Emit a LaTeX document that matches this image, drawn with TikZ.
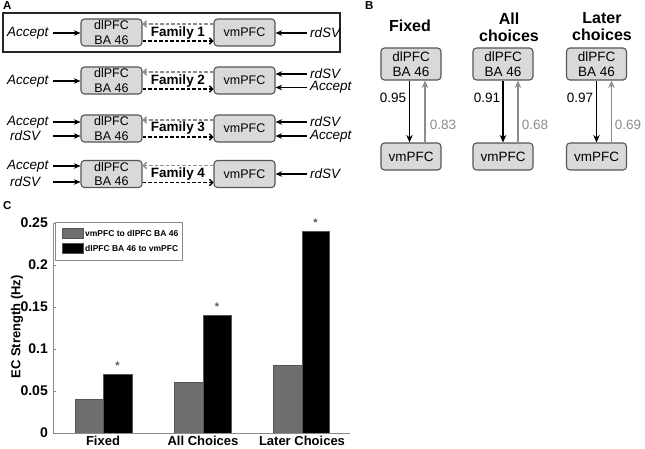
\documentclass[tikz,border=0pt]{standalone}
\usepackage{fontspec}
\setmainfont{Liberation Sans}
\usetikzlibrary{arrows.meta}
\definecolor{boxfill}{HTML}{D9D9D9}
\definecolor{boxline}{HTML}{555555}
\definecolor{garrow}{HTML}{8C8C8C}
\definecolor{gbar}{HTML}{6E6E6E}
\definecolor{axisc}{HTML}{8A8A8A}
\begin{document}
\begin{tikzpicture}[x=1pt,y=-1pt,
  boxA/.style={draw=boxline, fill=boxfill, rounded corners=3.5pt, line width=1.1pt, align=center, inner sep=0pt,
    minimum width=61pt, minimum height=27pt, font=\fontsize{12.5}{14.5}\selectfont},
  boxB/.style={draw=boxline, fill=boxfill, rounded corners=3.5pt, line width=1.1pt, align=center, inner sep=0pt,
    minimum width=60pt, font=\fontsize{13.5}{15}\selectfont},
  inarr/.style={-{Stealth[length=6.5pt,width=5.5pt]}, line width=1.6pt},
  gdash/.style={draw=garrow, line width=1.4pt, dash pattern=on 3.5pt off 2pt, -{Straight Barb[length=3pt,width=6.5pt]}},
  bdash/.style={draw=black, line width=1.4pt, dash pattern=on 3.5pt off 2pt, -{Straight Barb[length=3pt,width=6.5pt]}},
  lab/.style={font=\itshape\fontsize{13.5}{14}\selectfont, inner sep=0pt},
  fam/.style={font=\bfseries\fontsize{13.5}{14}\selectfont, inner sep=0pt},
  plab/.style={font=\bfseries\fontsize{11.5}{12}\selectfont, inner sep=0pt, anchor=north west},
  ttl/.style={font=\bfseries\fontsize{16}{17}\selectfont, align=center, inner sep=0pt},
  num/.style={font=\fontsize{13.5}{14}\selectfont, inner sep=0pt},
  barr/.style={-{Stealth[length=7.5pt,width=6.5pt]}, line width=1.6pt},
  garr/.style={draw=garrow, -{Stealth[length=7.5pt,width=6.5pt]}, line width=1.6pt},
  tick/.style={font=\bfseries\fontsize{14}{15}\selectfont, inner sep=0pt, anchor=east},
  xlab/.style={font=\bfseries\fontsize{13}{14}\selectfont, inner sep=0pt},
  leg/.style={font=\bfseries\fontsize{8.5}{9}\selectfont, inner sep=0pt, anchor=west},
  star/.style={font=\bfseries\fontsize{11}{12}\selectfont, text=boxline, inner sep=0pt, anchor=north}
]
\useasboundingbox (0,0) rectangle (645,448);

%% ---------------- Panel A ----------------
\node[plab] (labA) at (3,1) {A};
\draw[line width=1.5pt, draw=black!85] (3,13) rectangle (340,52);

% Row 1
\node[boxA] (d1) at (111.5,32.5) {dlPFC\\BA 46};
\node[boxA] (v1) at (244.5,32.5) {vmPFC};
\node[fam] (f1) at (178,33) {Family 1};
\draw[gdash] ([yshift=8.5pt]v1.west) -- ([yshift=8.5pt]d1.east);
\draw[bdash] ([yshift=-8.5pt]d1.east) -- ([yshift=-8.5pt]v1.west);
\node[lab, anchor=west] (l1a) at (7,33) {Accept};
\coordinate (s1a) at (53,33);
\draw[inarr] (s1a) -- (d1.west |- s1a);
\node[lab, anchor=west] (r1a) at (310,33) {rdSV};
\coordinate (t1a) at (307,33);
\draw[inarr] (t1a) -- (v1.east |- t1a);

% Row 2
\node[boxA] (d2) at (111.5,80.5) {dlPFC\\BA 46};
\node[boxA] (v2) at (244.5,80.5) {vmPFC};
\node[fam] (f2) at (178,81) {Family 2};
\draw[gdash] ([yshift=8.5pt]v2.west) -- ([yshift=8.5pt]d2.east);
\draw[bdash] ([yshift=-8.5pt]d2.east) -- ([yshift=-8.5pt]v2.west);
\node[lab, anchor=west] (l2a) at (7,81) {Accept};
\coordinate (s2a) at (53,81);
\draw[inarr] (s2a) -- (d2.west |- s2a);
\node[lab, anchor=west] (r2a) at (310,74) {rdSV};
\node[lab, anchor=west] (r2b) at (310,87.5) {Accept};
\coordinate (t2a) at (307,74);
\coordinate (t2b) at (307,87.5);
\draw[inarr] (t2a) -- (v2.east |- t2a);
\draw[inarr] (t2b) -- (v2.east |- t2b);

% Row 3
\node[boxA] (d3) at (111.5,128.5) {dlPFC\\BA 46};
\node[boxA] (v3) at (244.5,128.5) {vmPFC};
\node[fam] (f3) at (178,128.5) {Family 3};
\draw[gdash] ([yshift=8.5pt]v3.west) -- ([yshift=8.5pt]d3.east);
\draw[bdash] ([yshift=-8.5pt]d3.east) -- ([yshift=-8.5pt]v3.west);
\node[lab, anchor=west] (l3a) at (7,122) {Accept};
\node[lab, anchor=west] (l3b) at (10,136) {rdSV};
\coordinate (s3a) at (53,122);
\coordinate (s3b) at (53,136);
\draw[inarr] (s3a) -- (d3.west |- s3a);
\draw[inarr] (s3b) -- (d3.west |- s3b);
\node[lab, anchor=west] (r3a) at (310,122) {rdSV};
\node[lab, anchor=west] (r3b) at (310,136) {Accept};
\coordinate (t3a) at (307,122);
\coordinate (t3b) at (307,136);
\draw[inarr] (t3a) -- (v3.east |- t3a);
\draw[inarr] (t3b) -- (v3.east |- t3b);

% Row 4
\node[boxA] (d4) at (111.5,174) {dlPFC\\BA 46};
\node[boxA] (v4) at (244.5,174) {vmPFC};
\node[fam] (f4) at (178,174.5) {Family 4};
\draw[gdash] ([yshift=8.5pt]v4.west) -- ([yshift=8.5pt]d4.east);
\draw[bdash] ([yshift=-8.5pt]d4.east) -- ([yshift=-8.5pt]v4.west);
\node[lab, anchor=west] (l4a) at (7,166) {Accept};
\node[lab, anchor=west] (l4b) at (10,182) {rdSV};
\coordinate (s4a) at (53,166);
\coordinate (s4b) at (53,182);
\draw[inarr] (s4a) -- (d4.west |- s4a);
\draw[inarr] (s4b) -- (d4.west |- s4b);
\node[lab, anchor=west] (r4a) at (310,174) {rdSV};
\coordinate (t4a) at (307,174);
\draw[inarr] (t4a) -- (v4.east |- t4a);

%% ---------------- Panel B ----------------
\node[plab] (labB) at (365,1) {B};
\node[ttl] (tt1) at (410,26) {Fixed};
\node[ttl] (tt2) at (509,27) {All\\choices};
\node[ttl] (tt3) at (602,27) {Later\\choices};

\node[boxB, minimum height=32pt] (bd1) at (411,64) {dlPFC\\BA 46};
\node[boxB, minimum height=27pt] (bv1) at (411,156.5) {vmPFC};
\node[boxB, minimum height=32pt] (bd2) at (503,64) {dlPFC\\BA 46};
\node[boxB, minimum height=27pt] (bv2) at (503,156.5) {vmPFC};
\node[boxB, minimum height=32pt] (bd3) at (596.5,64) {dlPFC\\BA 46};
\node[boxB, minimum height=27pt] (bv3) at (596.5,156.5) {vmPFC};

\draw[barr] ([xshift=-1.5pt]bd1.south) -- ([xshift=-1.5pt]bv1.north);
\draw[garr] ([xshift=14pt]bv1.north) -- ([xshift=14pt]bd1.south);
\draw[barr] (bd2.south) -- (bv2.north);
\draw[garr] ([xshift=15pt]bv2.north) -- ([xshift=15pt]bd2.south);
\draw[barr] (bd3.south) -- (bv3.north);
\draw[garr] ([xshift=15pt]bv3.north) -- ([xshift=15pt]bd3.south);

\node[num] (n1a) at (393,98) {0.95};
\node[num, text=garrow] (n1b) at (443,125) {0.83};
\node[num] (n2a) at (487,98) {0.91};
\node[num, text=garrow] (n2b) at (535,125) {0.68};
\node[num] (n3a) at (580,98) {0.97};
\node[num, text=garrow] (n3b) at (628,125) {0.69};

%% ---------------- Panel C ----------------
\node[plab] (labC) at (3,201) {C};
% bars
\filldraw[fill=gbar, draw=boxline, line width=0.7pt] (75,433) rectangle (103,399.4);
\filldraw[fill=black, draw=boxline, line width=0.7pt] (103,433) rectangle (132,374.2);
\filldraw[fill=gbar, draw=boxline, line width=0.7pt] (174,433) rectangle (203,382.6);
\filldraw[fill=black, draw=boxline, line width=0.7pt] (203,433) rectangle (231,315.4);
\filldraw[fill=gbar, draw=boxline, line width=0.7pt] (273,433) rectangle (302,365.8);
\filldraw[fill=black, draw=boxline, line width=0.7pt] (302,433) rectangle (329,231.4);
% asterisks
\node[star] (a1) at (117.5,362) {*};
\node[star] (a2) at (217,303) {*};
\node[star] (a3) at (315.5,219) {*};
% axes
\draw[axisc, line width=0.9pt] (53,223) -- (53,433) -- (350,433);
\foreach \yy/\tl in {433/0, 391/0.05, 349/0.1, 307/0.15, 265/0.2, 223/0.25} {
  \draw[axisc, line width=0.7pt] (53,\yy) -- (56,\yy);
  \node[tick] at (48,\yy) {\tl};
}
\node[xlab, rotate=90] (ylab) at (17,327) {EC Strength (Hz)};
\node[xlab] (x1) at (103,441) {Fixed};
\node[xlab] (x2) at (203,441) {All Choices};
\node[xlab] (x3) at (302,441) {Later Choices};
% legend
\draw[fill=white, draw=axisc, line width=0.7pt] (55,222) rectangle (182,260);
\filldraw[fill=gbar, draw=boxline, line width=0.5pt] (62,228) rectangle (83,238);
\filldraw[fill=black, draw=boxline, line width=0.5pt] (62,243) rectangle (83,253);
\node[leg] (lg1) at (85,233) {vmPFC to dlPFC BA 46};
\node[leg] (lg2) at (85,248) {dlPFC BA 46 to vmPFC};
\end{tikzpicture}
\end{document}
